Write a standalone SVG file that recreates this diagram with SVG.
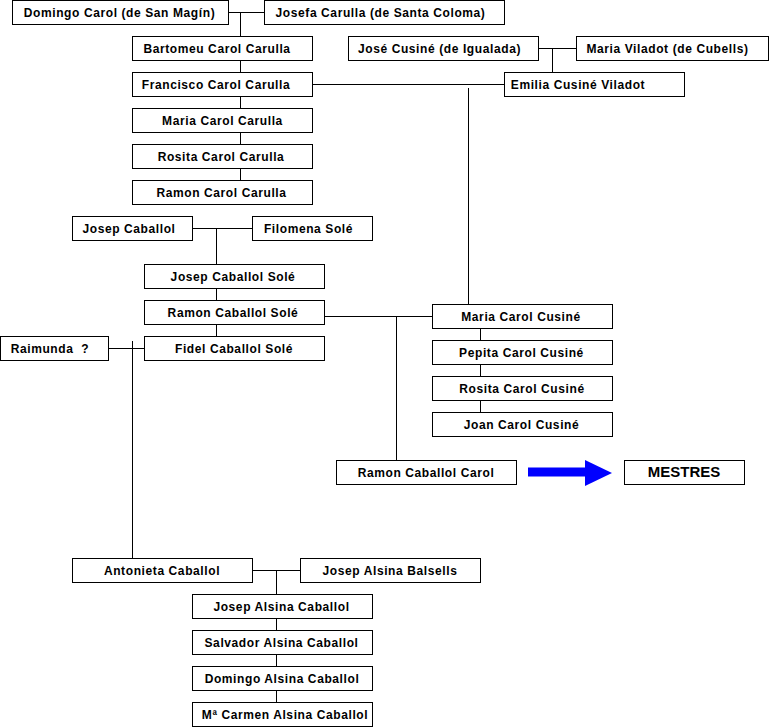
<svg xmlns="http://www.w3.org/2000/svg" width="771" height="728" viewBox="0 0 771 728">
<style>
.b{fill:#fff;stroke:#000;stroke-width:1}
.t{font-family:"Liberation Sans",Arial,sans-serif;font-weight:bold;font-size:12px;letter-spacing:0.6px;text-anchor:middle;fill:#000;white-space:pre}
.m{font-size:15px;letter-spacing:0}
#connectors path{stroke:#000;stroke-width:1;fill:none}
</style>
<rect width="771" height="728" fill="#fff"/>
<g id="connectors">
<path d="M228 12.5H264M240.5 12.5V36M240.5 60V72M240.5 96V108M240.5 132V144M240.5 168V180"/>
<path d="M312 84.5H504M538 48.5H576M552.5 48.5V72M468.5 88V304"/>
<path d="M192 228.5H252M216.5 228.5V264M216.5 288V300M216.5 324V336"/>
<path d="M324 316.5H432M396.5 316.5V460M480.5 328V340M480.5 364V376M480.5 400V412"/>
<path d="M108 348.5H144M132.5 341V558"/>
<path d="M252 570.5H300M276.5 570.5V594M276.5 618V630M276.5 654V666M276.5 690V702"/>
<path d="M528 467.5H586V476.5H528Z" style="fill:#00f;stroke:none"/>
<path d="M585 460L612 473L585 486Z" style="fill:#00f;stroke:none"/>
</g>
<g id="n1"><rect class="b" x="12.5" y="0.5" width="216" height="24"/><text class="t" x="119.5" y="16.5">Domingo Carol (de San Magín)</text></g>
<g id="n2"><rect class="b" x="264.5" y="0.5" width="240" height="24"/><text class="t" x="380.5" y="16.5">Josefa Carulla (de Santa Coloma)</text></g>
<g id="n3"><rect class="b" x="132.5" y="36.5" width="180" height="24"/><text class="t" x="217" y="52.5">Bartomeu Carol Carulla</text></g>
<g id="n4"><rect class="b" x="132.5" y="72.5" width="180" height="24"/><text class="t" x="216" y="88.5">Francisco Carol Carulla</text></g>
<g id="n5"><rect class="b" x="132.5" y="108.5" width="180" height="24"/><text class="t" x="222.5" y="124.5">Maria Carol Carulla</text></g>
<g id="n6"><rect class="b" x="132.5" y="144.5" width="180" height="24"/><text class="t" x="221" y="160.5">Rosita Carol Carulla</text></g>
<g id="n7"><rect class="b" x="132.5" y="180.5" width="180" height="24"/><text class="t" x="221.5" y="196.5">Ramon Carol Carulla</text></g>
<g id="n8"><rect class="b" x="348.5" y="36.5" width="190" height="24"/><text class="t" x="439.5" y="52.5">José Cusiné (de Igualada)</text></g>
<g id="n9"><rect class="b" x="576.5" y="36.5" width="192" height="24"/><text class="t" x="667.5" y="52.5">Maria Viladot (de Cubells)</text></g>
<g id="n10"><rect class="b" x="504.5" y="72.5" width="180" height="24"/><text class="t" x="578" y="88.5">Emilia Cusiné Viladot</text></g>
<g id="n11"><rect class="b" x="72.5" y="216.5" width="120" height="24"/><text class="t" x="129" y="232.5">Josep Caballol</text></g>
<g id="n12"><rect class="b" x="252.5" y="216.5" width="120" height="24"/><text class="t" x="308.5" y="232.5">Filomena Solé</text></g>
<g id="n13"><rect class="b" x="144.5" y="264.5" width="180" height="24"/><text class="t" x="233" y="280.5">Josep Caballol Solé</text></g>
<g id="n14"><rect class="b" x="144.5" y="300.5" width="180" height="24"/><text class="t" x="233" y="316.5">Ramon Caballol Solé</text></g>
<g id="n15"><rect class="b" x="144.5" y="336.5" width="180" height="24"/><text class="t" x="234" y="352.5">Fidel Caballol Solé</text></g>
<g id="n16"><rect class="b" x="0.5" y="336.5" width="108" height="24"/><text class="t" x="50" y="352.5">Raimunda  ?</text></g>
<g id="n17"><rect class="b" x="432.5" y="304.5" width="180" height="24"/><text class="t" x="521" y="320.5">Maria Carol Cusiné</text></g>
<g id="n18"><rect class="b" x="432.5" y="340.5" width="180" height="24"/><text class="t" x="521.5" y="356.5">Pepita Carol Cusiné</text></g>
<g id="n19"><rect class="b" x="432.5" y="376.5" width="180" height="24"/><text class="t" x="522" y="392.5">Rosita Carol Cusiné</text></g>
<g id="n20"><rect class="b" x="432.5" y="412.5" width="180" height="24"/><text class="t" x="521.5" y="428.5">Joan Carol Cusiné</text></g>
<g id="n21"><rect class="b" x="336.5" y="460.5" width="180" height="24"/><text class="t" x="426" y="476.5">Ramon Caballol Carol</text></g>
<g id="n22"><rect class="b" x="624.5" y="460.5" width="120" height="24"/><text class="t m" x="684" y="477">MESTRES</text></g>
<g id="n23"><rect class="b" x="72.5" y="558.5" width="180" height="24"/><text class="t" x="162" y="574.5">Antonieta Caballol</text></g>
<g id="n24"><rect class="b" x="300.5" y="558.5" width="180" height="24"/><text class="t" x="390" y="574.5">Josep Alsina Balsells</text></g>
<g id="n25"><rect class="b" x="192.5" y="594.5" width="180" height="24"/><text class="t" x="281.5" y="610.5">Josep Alsina Caballol</text></g>
<g id="n26"><rect class="b" x="192.5" y="630.5" width="180" height="24"/><text class="t" x="281.5" y="646.5">Salvador Alsina Caballol</text></g>
<g id="n27"><rect class="b" x="192.5" y="666.5" width="180" height="24"/><text class="t" x="282" y="682.5">Domingo Alsina Caballol</text></g>
<g id="n28"><rect class="b" x="192.5" y="702.5" width="180" height="24"/><text class="t" x="285" y="718.5">Mª Carmen Alsina Caballol</text></g>
</svg>
